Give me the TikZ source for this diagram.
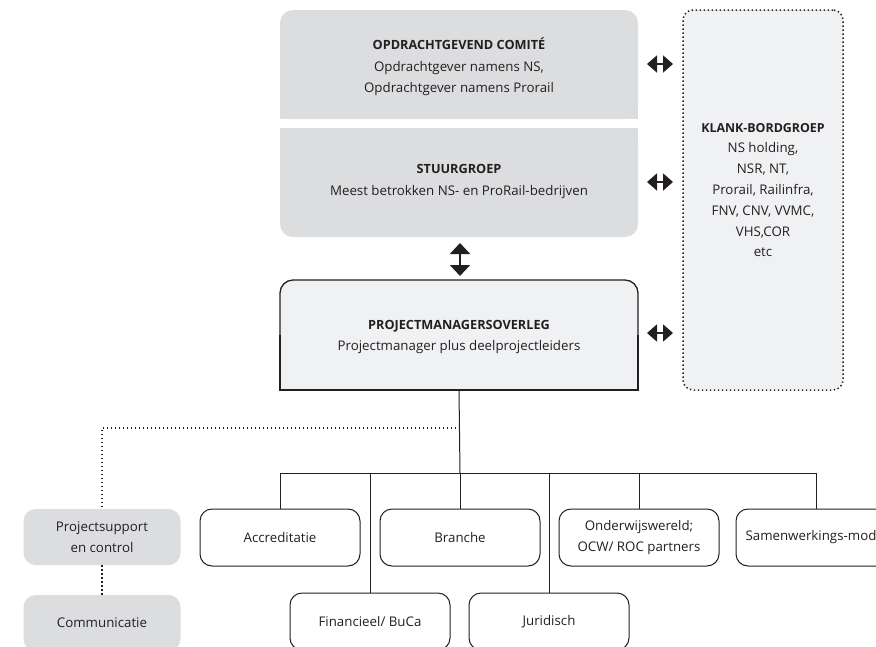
\documentclass[tikz,border=0pt]{standalone}
\usepackage{fontspec}
\setmainfont{Open Sans}
\usetikzlibrary{arrows.meta,backgrounds}
\definecolor{boxgray}{HTML}{DCDDDF}
\definecolor{boxlight}{HTML}{F0F1F3}
\definecolor{ink}{HTML}{231F20}
\newcommand\myhead[1]{{\bfseries\fontsize{12.7}{21.5}\selectfont #1}}
\newcommand\mykhead[1]{{\bfseries\fontsize{12.4}{20.8}\selectfont #1}}
\begin{document}
\begin{tikzpicture}[x=1pt,y=-1pt,
  txt/.style={font=\fontsize{13.3}{21.5}\selectfont, align=center, inner sep=0pt, text=ink},
  ktxt/.style={font=\fontsize{13.3}{20.8}\selectfont, align=center, inner sep=0pt, text=ink},
  area/.style={inner sep=0pt, outer sep=0pt},
  sbox/.style={draw=ink, line width=1pt, rounded corners=12pt, minimum width=160pt, minimum height=57pt, txt},
  gbox/.style={fill=boxgray, rounded corners=12pt, minimum width=157pt, minimum height=56pt, txt},
  conn/.style={draw=ink, line width=1pt},
  dots/.style={draw=ink, line width=1.5pt, dash pattern=on 1.4pt off 2.6pt},
  harrow/.style={draw=ink, line width=1.8pt, {Triangle[length=10pt,width=17pt]}-{Triangle[length=10pt,width=17pt]}},
  varrow/.style={draw=ink, line width=1.8pt, {Triangle[length=11pt,width=20pt]}-{Triangle[length=11pt,width=20pt]}}
]
\useasboundingbox (0,0) rectangle (876,646);
\clip (0,0) rectangle (876,646);

% main boxes (shapes drawn on background)
\node[area, minimum width=358pt, minimum height=109pt] (oc) at (459,64.5) {};
\node[area, minimum width=358pt, minimum height=109pt] (sg) at (459,182.5) {};
\node[area, minimum width=358pt, minimum height=110pt] (pm) at (459,335) {};
\node[area, draw=ink, dots, fill=boxlight, rounded corners=10pt, minimum width=160pt, minimum height=380pt] (kb) at (763,200) {};

\begin{scope}[on background layer]
  \fill[boxgray, rounded corners=13pt] (oc.south west) rectangle (oc.north east);
  \fill[boxgray] (oc.south west) rectangle (oc.east);
  \fill[boxgray, rounded corners=13pt] (sg.south west) rectangle (sg.north east);
  \fill[boxgray] (sg.north west) rectangle (sg.east);
  \fill[boxlight, rounded corners=13pt] (pm.south west) rectangle (pm.north east);
  \fill[boxlight] (pm.south west) rectangle (pm.east);
\end{scope}
\draw[ink, line width=1.3pt, rounded corners=13pt] (pm.west) -- (pm.north west) -- (pm.north east) -- (pm.east);
\draw[ink, line width=1.3pt] (pm.west) -- (pm.south west) -- (pm.south east) -- (pm.east);

% texts of main boxes
\node[txt] (octxt) at (459,67) {\myhead{OPDRACHTGEVEND COMITÉ}\\Opdrachtgever namens NS,\\Opdrachtgever namens Prorail};
\node[txt] (sgtxt) at (459,181.5) {\myhead{STUURGROEP}\\Meest betrokken NS- en ProRail-bedrijven};
\node[txt] (pmtxt) at (459,337) {\myhead{PROJECTMANAGERSOVERLEG}\\Projectmanager plus deelprojectleiders};
\node[ktxt] (kbtxt) at (763,190) {\mykhead{KLANK-BORDGROEP}\\NS holding,\\NSR, NT,\\Prorail, Railinfra,\\FNV, CNV, VVMC,\\VHS,COR\\etc};

% arrows
\coordinate (a1l) at (647,64);  \coordinate (a1r) at (673,64);
\coordinate (a2l) at (647,182); \coordinate (a2r) at (673,182);
\coordinate (a3l) at (647,333); \coordinate (a3r) at (673,333);
\coordinate (v1) at (460,243);  \coordinate (v2) at (460,276);
\draw[harrow] (a1l) -- (a1r);
\draw[harrow] (a2l) -- (a2r);
\draw[harrow] (a3l) -- (a3r);
\draw[varrow] (v1) -- (v2);

% sub-project boxes
\node[sbox] (acc) at (280,537.5) {Accreditatie};
\node[sbox] (br)  at (460,537.5) {Branche};
\node[sbox] (ond) at (639,537.5) {Onderwijswereld;\\OCW/ ROC partners};
\node[sbox] (sam) at (816,537.5) {Samenwerkings-mod\hspace{10pt}};
\node[sbox] (fin) at (370,621.5) {Financieel/ BuCa};
\node[sbox] (jur) at (549,621.5) {Juridisch};

% support boxes
\node[gbox] (ps)   at (102,537) {Projectsupport\\en control};
\node[gbox] (comm) at (102,623) {Communicatie};

% tree connectors
\coordinate (bus) at (460,473);
\coordinate (dj) at (460,428);
\coordinate (dl) at (102,428);
\draw[conn] (pm.south) -- (bus);
\draw[conn] (acc.north) |- (bus);
\draw[conn] (fin.north) |- (bus);
\draw[conn] (br.north) -- (bus);
\draw[conn] (jur.north) |- (bus);
\draw[conn] (ond.north) |- (bus);
\draw[conn] (sam.north) |- (bus);

% dotted support links
\draw[dots] (dj) -- (dl) -- (ps.north);
\draw[dots] (ps.south) -- (comm.north);
\end{tikzpicture}
\end{document}
